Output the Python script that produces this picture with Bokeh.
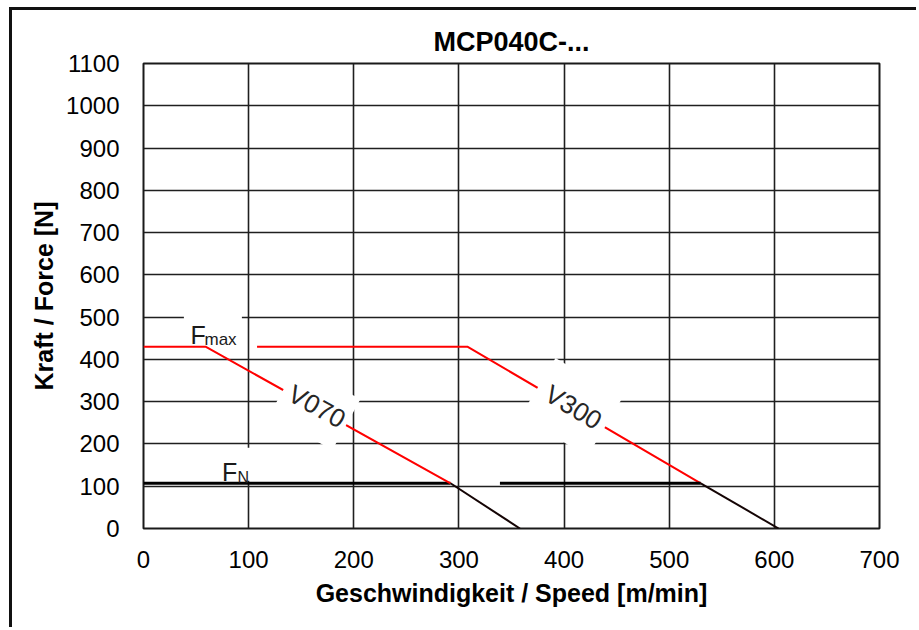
import math
from bokeh.plotting import figure
from bokeh.models import Range1d, Label
from bokeh.embed import file_html
from bokeh.resources import INLINE

FONT = "Liberation Sans"

# ---- data ----
speed_ticks = [0, 100, 200, 300, 400, 500, 600, 700]
force_ticks = [0, 100, 200, 300, 400, 500, 600, 700, 800, 900, 1000, 1100]

# V070 curve: Fmax plateau + falling branch (red), continuation below F_N (dark)
v070_red_speed = [0, 59, 292]
v070_red_force = [430, 430, 107]
v070_dark_speed = [292, 358]
v070_dark_force = [107, 0]

# V300 curve
v300_red_speed = [108, 308, 530]
v300_red_force = [430, 430, 107]
v300_dark_speed = [530, 604]
v300_dark_force = [107, 0]

# Nominal force F_N lines
fn_a_speed = [0, 292]
fn_a_force = [107, 107]
fn_b_speed = [339, 530]
fn_b_force = [107, 107]

title_text = "MCP040C-..."
x_label = "Geschwindigkeit / Speed [m/min]"
y_label = "Kraft / Force [N]"

p = figure(width=907, height=620,
           x_range=Range1d(0, 700), y_range=Range1d(0, 1100),
           output_backend="svg", toolbar_location=None,
           min_border_left=131, min_border_right=40,
           min_border_top=53, min_border_bottom=102)
p.styles = {"border-left": "3px solid #111111", "border-top": "3px solid #111111",
            "margin-left": "9px", "margin-top": "7px"}

p.title.text = title_text
p.title.align = "center"
p.title.text_font = FONT
p.title.text_font_size = "27px"
p.title.text_font_style = "bold"
p.title.text_color = "#000000"
p.title.standoff = 13

p.background_fill_color = "white"
p.border_fill_color = "white"
p.outline_line_color = "#1a1a1a"
p.outline_line_width = 2

p.xaxis.ticker = speed_ticks
p.yaxis.ticker = force_ticks
p.xaxis.axis_label = x_label
p.yaxis.axis_label = y_label
for ax in (p.xaxis[0], p.yaxis[0]):
    ax.axis_line_color = None
    ax.major_tick_line_color = None
    ax.minor_tick_line_color = None
    ax.major_label_text_font = FONT
    ax.major_label_text_font_size = "24px"
    ax.major_label_text_color = "#000000"
    ax.axis_label_text_font = FONT
    ax.axis_label_text_font_size = "25px"
    ax.axis_label_text_font_style = "bold"
    ax.axis_label_text_color = "#000000"
p.xaxis.major_label_standoff = 16
p.yaxis.major_label_standoff = 18
p.xaxis.axis_label_standoff = 8
p.yaxis.axis_label_standoff = 5

for g in (p.xgrid[0], p.ygrid[0]):
    g.grid_line_color = "#1f1f1f"
    g.grid_line_width = 1.6

# ---- curves ----
p.line(v300_red_speed, v300_red_force, line_color="#ff0000", line_width=2)
p.line(v300_dark_speed, v300_dark_force, line_color="#140404", line_width=2)
p.line(fn_a_speed, fn_a_force, line_color="#000000", line_width=3)
p.line(fn_b_speed, fn_b_force, line_color="#000000", line_width=3)
p.line(v070_red_speed, v070_red_force, line_color="#ff0000", line_width=2)
p.line(v070_dark_speed, v070_dark_force, line_color="#140404", line_width=2)

# ---- white label boxes ----
box_x = [66, 88.5, 163, 407]
box_y = [485, 152, 287, 287]
box_w = [58, 44, 72, 78]
box_h = [40, 33, 58, 68]
box_a = [0, 0, -math.radians(29), -math.radians(31)]
p.rect(box_x, box_y, width=box_w, height=box_h, width_units="screen",
       height_units="screen", angle=box_a, fill_color="white", line_color=None)

def lab(x, y, text, size, style="normal", angle=0.0, align="left",
        baseline="alphabetic", color="#1a1a1a"):
    p.add_layout(Label(x=x, y=y, text=text, text_font=FONT, text_font_size=size,
                       text_font_style=style, angle=angle, text_align=align,
                       text_baseline=baseline, text_color=color))

# curve annotations
lab(44.7, 456.6, "F", "25px")
lab(58, 446.4, "max", "17px")
lab(74.7, 133.2, "F", "25px")
lab(89.4, 121.4, "N", "16px")
lab(165, 289, "V070", "26px", angle=-math.radians(29), align="center", baseline="middle",
    color="#262626")
lab(409, 287, "V300", "26px", angle=-math.radians(31), align="center", baseline="middle",
    color="#262626")

open("out.html", "w").write(file_html(p, INLINE))
